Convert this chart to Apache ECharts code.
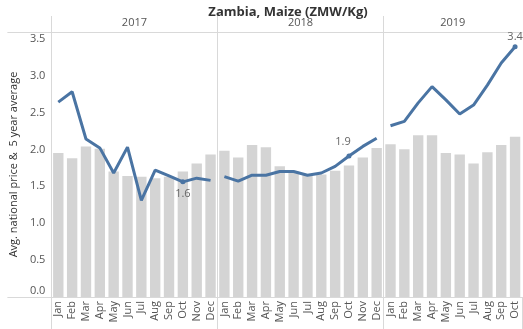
<!DOCTYPE html>
<html><head><meta charset="utf-8">
<script src="https://cdn.jsdelivr.net/npm/echarts@6/dist/echarts.min.js"></script>
<style>html,body{margin:0;padding:0;background:#fff}#c{width:523px;height:329px}</style>
</head><body><div id="c"></div>
<script>
const years = ['2017', '2018', '2019'];
const months = ['Jan','Feb','Mar','Apr','May','Jun','Jul','Aug','Sep','Oct','Nov','Dec'];
const categories = [...months, ...months, ...months.slice(0, 10)];
const avg5 = [1.95,1.88,2.04,2.01,1.70,1.64,1.63,1.61,1.63,1.70,1.81,1.93,
              1.98,1.89,2.06,2.03,1.77,1.70,1.65,1.66,1.71,1.78,1.89,2.02,
              2.07,2.00,2.19,2.19,1.95,1.93,1.81,1.96,2.06,2.17];
const price2017 = [2.64,2.78,2.14,2.02,1.68,2.03,1.31,1.72,1.64,1.56,1.61,1.58];
const price2018 = [1.63,1.57,1.65,1.65,1.70,1.70,1.65,1.68,1.77,1.91,2.04,2.15];
const price2019 = [2.32,2.38,2.63,2.85,2.67,2.48,2.60,2.87,3.17,3.39];
const yTicks = [0, 0.5, 1.0, 1.5, 2.0, 2.5, 3.0, 3.5];
const yMax = 3.59;
const yearLabelPos = [6, 18, 29];
const yearStart = [0, 12, 24];
const labelIdx = [9, 9, 9];
const labelPos = ['bottom', 'top', 'top'];
const labelOffset = [[0, 0], [-6, -2], [0, 2]];

const font = '"Open Sans", "Noto Sans", sans-serif';
const grey = '#d4d4d4';
const lineCol = '#4a74a3';

function yearSeries(vals, k) {
  const data = categories.map(() => null);
  vals.forEach((v, i) => {
    const item = { value: v };
    if (i === labelIdx[k]) {
      item.label = { show: true, position: labelPos[k], offset: labelOffset[k],
        formatter: p => p.value.toFixed(1),
        color: '#666', fontSize: 11, fontFamily: font, distance: 4 };
      item.symbolSize = 5;
    }
    data[yearStart[k] + i] = item;
  });
  return {
    type: 'line', xAxisIndex: 0, yAxisIndex: 0, data,
    symbol: 'circle', symbolSize: 0, showSymbol: true,
    itemStyle: { color: lineCol },
    lineStyle: { color: lineCol, width: 3 },
    connectNulls: false, z: 3, silent: true
  };
}

const chart = echarts.init(document.getElementById('c'), null, { renderer: 'canvas' });
chart.setOption({
  animation: false,
  title: {
    text: 'Zambia, Maize (ZMW/Kg)', left: 283, top: 1, textAlign: 'center',
    textStyle: { fontFamily: font, fontSize: 13, fontWeight: 'bold', color: '#333' }
  },
  grid: { left: 44, right: 1, top: 32, bottom: 32, containLabel: false },
  xAxis: [{
    type: 'category', data: categories, position: 'bottom', boundaryGap: true,
    axisLine: { show: true, lineStyle: { color: '#d9d9d9', width: 1 } },
    axisTick: { show: true, length: 32, interval: (i) => i === 0 || i === 12 || i === 24,
      lineStyle: { color: '#d9d9d9' } },
    axisLabel: { rotate: 90, interval: 0, fontSize: 11, color: '#555', fontFamily: font, margin: 4 }
  }, {
    type: 'value', position: 'top', min: 0, max: 34,
    axisLine: { show: true, lineStyle: { color: '#d9d9d9', width: 1 } },
    axisTick: { show: true, length: 16, customValues: yearStart, lineStyle: { color: '#d9d9d9' } },
    splitLine: { show: true, lineStyle: { color: '#d9d9d9', width: 1 } },
    axisLabel: { show: true, customValues: yearLabelPos, fontSize: 11, color: '#555', fontFamily: font, margin: 4,
      formatter: v => years[yearLabelPos.indexOf(v)] }
  }],
  yAxis: [{
    type: 'value', min: 0, max: yMax,
    name: 'Avg. national price &  5 year average', nameLocation: 'middle', nameGap: 26,
    nameTextStyle: { fontSize: 11, color: '#333', fontFamily: font },
    axisLine: { show: true, lineStyle: { color: '#d9d9d9', width: 1 } },
    axisTick: { show: true, length: 44, customValues: [0, yMax], lineStyle: { color: '#d9d9d9' } },
    splitLine: { show: false },
    axisLabel: { customValues: yTicks, fontSize: 11, color: '#555', fontFamily: font, margin: 6,
      formatter: v => v === 0 ? '{z|0.0}' : v.toFixed(1),
      rich: { z: { fontSize: 11, color: '#555', fontFamily: font, padding: [0, 0, 12, 0] } } }
  }],
  series: [
    { type: 'bar', xAxisIndex: 0, yAxisIndex: 0, data: avg5, barCategoryGap: '25%',
      itemStyle: { color: grey }, z: 2, silent: true },
    yearSeries(price2017, 0),
    yearSeries(price2018, 1),
    yearSeries(price2019, 2)
  ]
});
</script>
</body></html>
